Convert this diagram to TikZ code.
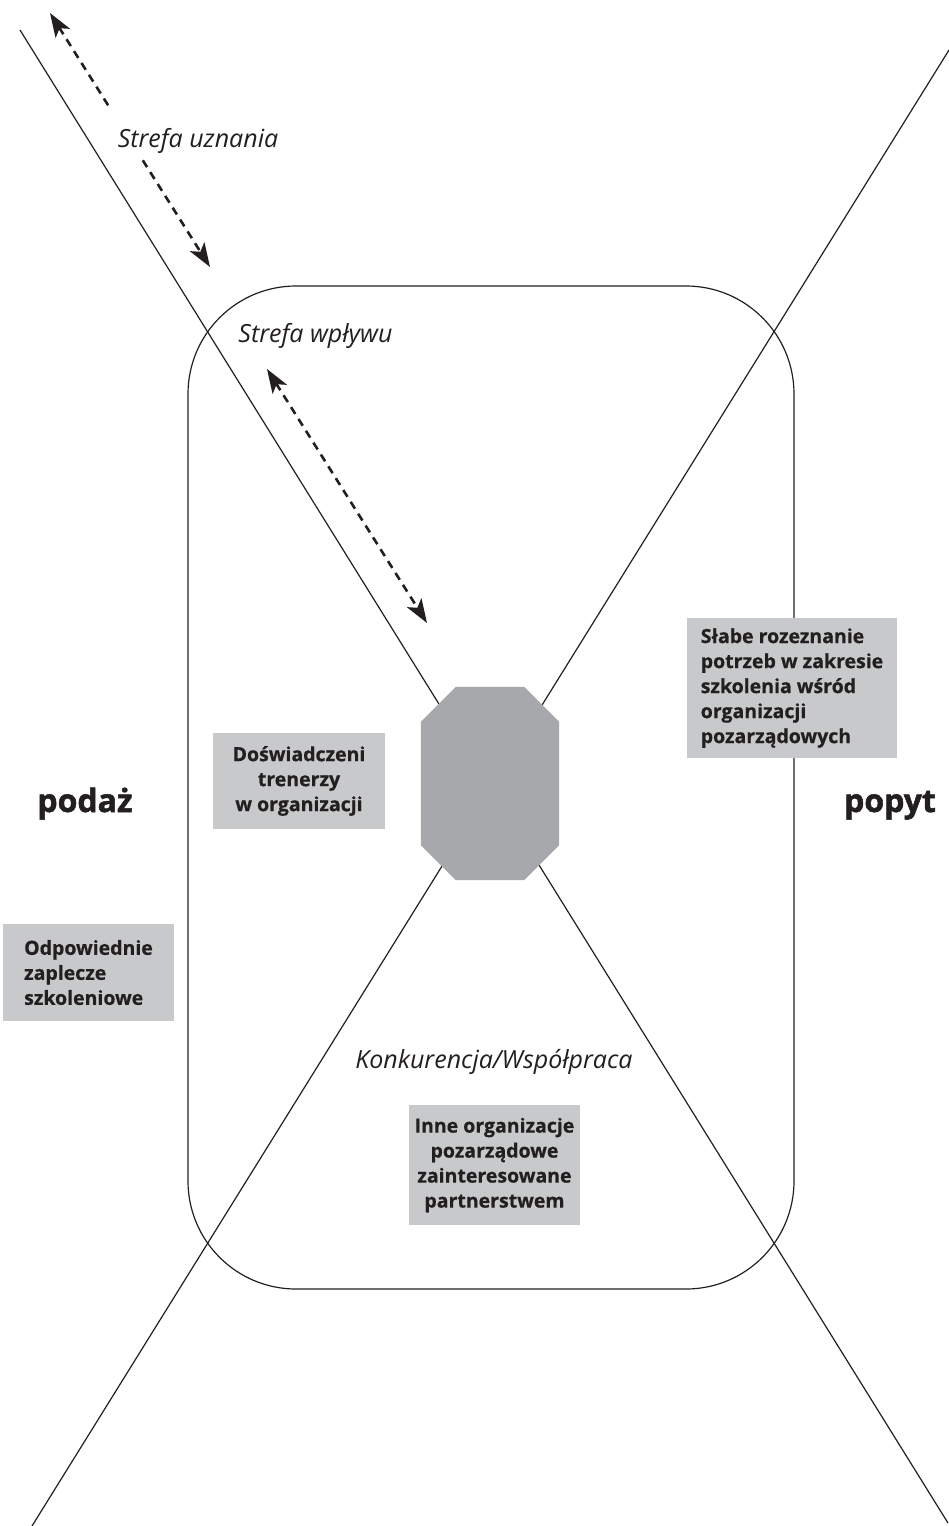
\documentclass[tikz,border=0pt]{standalone}
\usepackage{fontspec}
\setmainfont{Open Sans}
\newfontfamily\boxfont[BoldFeatures={FakeBold=0.6}]{Open Sans}
\newfontfamily\heavyfont[BoldFeatures={FakeBold=1.6}]{Open Sans}
\usetikzlibrary{arrows.meta,calc}
\definecolor{ink}{HTML}{231F20}
\definecolor{boxgray}{HTML}{C8C9CB}
\definecolor{octgray}{HTML}{A7A8AB}
\begin{document}
\begin{tikzpicture}[x=1pt,y=-1pt,
  axisline/.style={draw=ink, line width=1.2pt},
  infobox/.style={fill=boxgray, inner sep=0pt, font=\boxfont\fontsize{19.5}{25}\selectfont\bfseries, text=ink, align=center},
  zonelabel/.style={font=\fontsize{25}{30}\selectfont\itshape, text=ink, anchor=base, inner sep=0pt},
  sidelabel/.style={font=\heavyfont\fontsize{32}{36}\selectfont\bfseries, text=ink, anchor=base, inner sep=0pt},
  dasharrow/.style={draw=ink, line width=2.6pt, dash pattern=on 8pt off 6pt},
  tip/.tip={Stealth[length=24pt,width=17pt,inset=6pt]}
]
\useasboundingbox (0,0) rectangle (949,1526);
% axes
\coordinate (tl) at (20,30);
\coordinate (br) at (948,1523);
\coordinate (tr) at (949,50);
\coordinate (bl) at (32,1526);
\draw[axisline] (tl) -- (br);
\draw[axisline] (tr) -- (bl);
% zone of influence
\node[draw=ink, line width=1.2pt, rounded corners=108pt, minimum width=606pt, minimum height=1003pt, inner sep=0pt] (zone) at (491,787.5) {};
% core octagon
\node[minimum width=138pt, minimum height=193pt, inner sep=0pt] (core) at (490,783.5) {};
\fill[octgray] ([xshift=35pt]core.north west) -- ([xshift=-35pt]core.north east) -- ([yshift=-35pt]core.north east) -- ([yshift=35pt]core.south east) -- ([xshift=-35pt]core.south east) -- ([xshift=35pt]core.south west) -- ([yshift=35pt]core.south west) -- ([yshift=-35pt]core.north west) -- cycle;
% dashed arrows
\coordinate (ua) at (50,13);
\coordinate (ub) at (210,267);
\draw[dasharrow, tip-] (ua) -- ($(ua)!0.37!(ub)$);
\draw[dasharrow, -tip] ($(ua)!0.58!(ub)$) -- (ub);
\coordinate (la) at (267,369);
\coordinate (lb) at (427,623);
\draw[dasharrow, tip-tip] (la) -- (lb);
% labels
\node[zonelabel] (recog) at (198,147) {Strefa uznania};
\node[zonelabel] (infl) at (315.5,342) {Strefa wpływu};
\node[zonelabel] (comp) at (494,1068) {Konkurencja/Współpraca};
\node[sidelabel] (supply) at (85,812) {podaż};
\node[sidelabel] (demand) at (890,812) {popyt};
% boxes
\node[infobox, minimum width=210pt, minimum height=140pt, align=left] (weak) at (792,688) {Słabe rozeznanie\\potrzeb w zakresie\\szkolenia wśród\\organizacji\\pozarządowych};
\node[infobox, minimum width=172pt, minimum height=96pt] (trainers) at (299,781) {Doświadczeni\\trenerzy\\w organizacji};
\node[infobox, minimum width=171pt, minimum height=97pt, align=left] (base) at (88.5,972.5) {Odpowiednie\\zaplecze\\szkoleniowe};
\node[infobox, minimum width=171pt, minimum height=120pt] (others) at (494.5,1165) {Inne organizacje\\pozarządowe\\zainteresowane\\partnerstwem};
\end{tikzpicture}
\end{document}
